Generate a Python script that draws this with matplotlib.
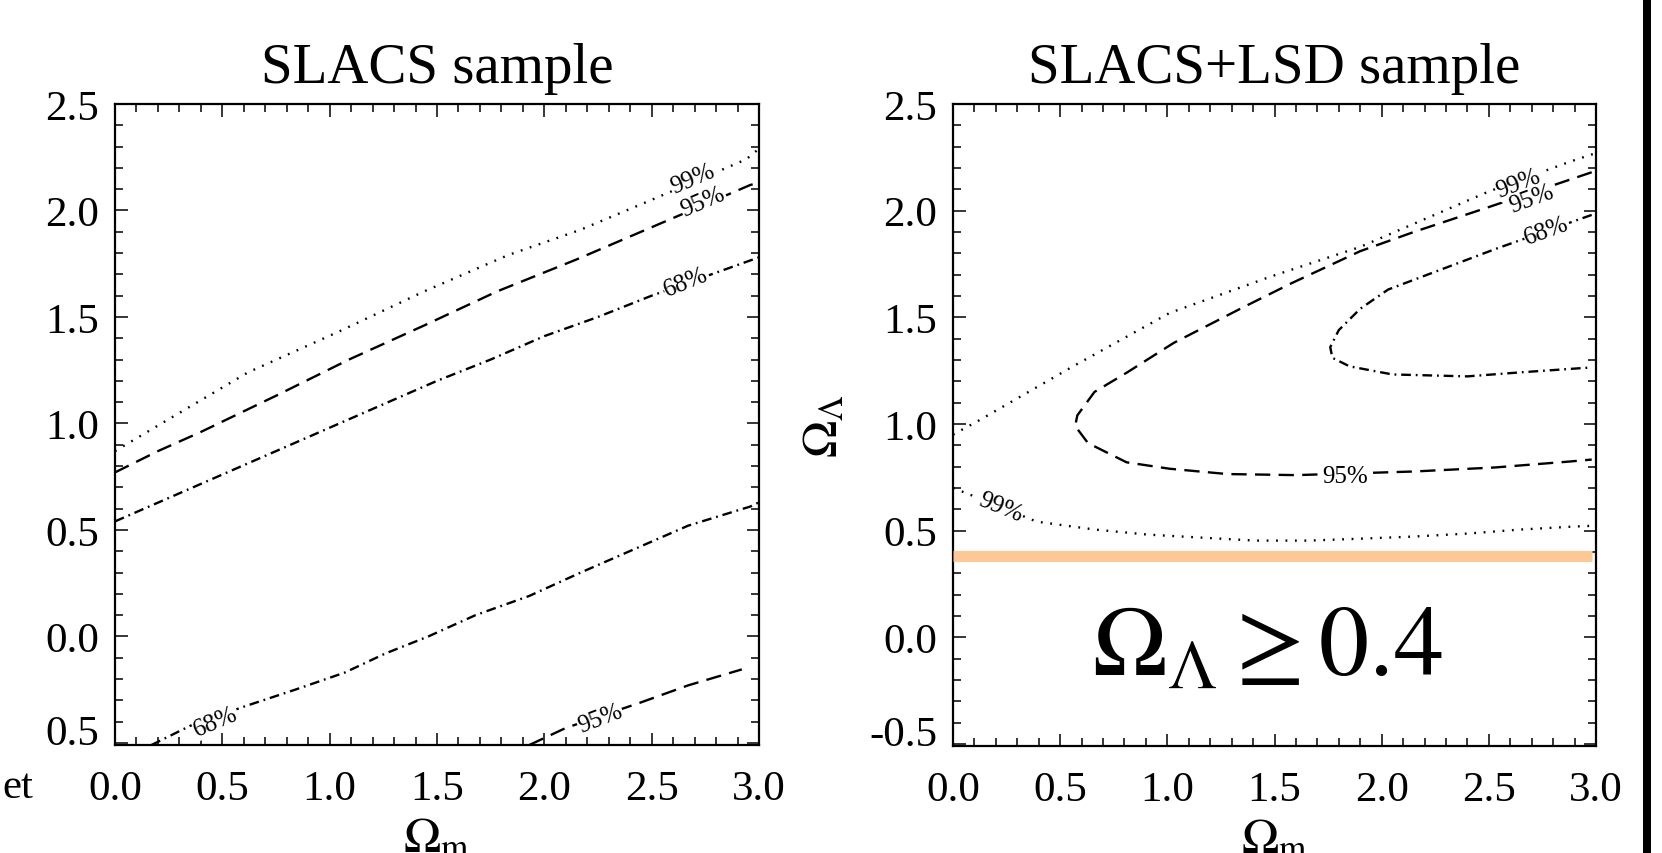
import matplotlib
matplotlib.use('Agg')
import matplotlib.pyplot as plt
from matplotlib.patches import Rectangle
from matplotlib.ticker import MultipleLocator, FixedLocator, FixedFormatter
from matplotlib.transforms import ScaledTranslation

plt.rcParams['font.family'] = ['Liberation Serif', 'DejaVu Serif']
plt.rcParams['mathtext.fontset'] = 'stix'
plt.rcParams['lines.scale_dashes'] = False

# ---------------- data ----------------
titles = ['SLACS sample', 'SLACS+LSD sample']
x_ticks = [0.0, 0.5, 1.0, 1.5, 2.0, 2.5, 3.0]
x_tick_labels = ['0.0', '0.5', '1.0', '1.5', '2.0', '2.5', '3.0']
y_ticks = [-0.5, 0.0, 0.5, 1.0, 1.5, 2.0, 2.5]
y_tick_labels_left = ['0.5', '0.0', '0.5', '1.0', '1.5', '2.0', '2.5']
y_tick_labels_right = ['-0.5', '0.0', '0.5', '1.0', '1.5', '2.0', '2.5']
x_label = r'$\Omega_{\rm m}$'
y_label_right = r'$\Omega_\Lambda$'

# SLACS sample contours
slacs_99_x = [0.0, 0.2, 0.62, 1.04, 1.44, 1.83, 2.17, 2.5, 2.94, 3.0]
slacs_99_y = [0.87, 0.99, 1.24, 1.43, 1.62, 1.79, 1.91, 2.05, 2.24, 2.29]
slacs_95a_x = [0.0, 0.2, 0.4, 0.75, 1.09, 1.44, 1.78, 2.15, 2.52, 2.96, 3.0]
slacs_95a_y = [0.77, 0.87, 0.96, 1.13, 1.30, 1.46, 1.62, 1.77, 1.93, 2.12, 2.13]
slacs_68a_x = [0.0, 0.25, 0.5, 0.75, 1.0, 1.25, 1.5, 1.75, 2.0, 2.25, 2.5, 2.75, 3.0]
slacs_68a_y = [0.54, 0.65, 0.76, 0.87, 0.98, 1.09, 1.20, 1.30, 1.41, 1.50, 1.60, 1.69, 1.78]
slacs_68b_x = [0.17, 0.35, 0.6, 0.84, 1.07, 1.26, 1.46, 1.68, 1.93, 2.17, 2.42, 2.67, 2.96, 3.0]
slacs_68b_y = [-0.51, -0.42, -0.33, -0.25, -0.17, -0.08, 0.0, 0.10, 0.19, 0.30, 0.41, 0.52, 0.61, 0.63]
slacs_95b_x = [1.93, 2.1, 2.45, 2.67, 2.92]
slacs_95b_y = [-0.51, -0.43, -0.31, -0.23, -0.155]

# SLACS+LSD sample contours
lsd_99a_x = [0.0, 0.11, 0.56, 1.01, 1.48, 1.9, 2.5, 2.88, 3.0]
lsd_99a_y = [0.95, 1.01, 1.27, 1.52, 1.69, 1.83, 2.09, 2.23, 2.27]
lsd_95_x = [2.98, 2.48, 2.15, 1.9, 1.58, 1.36, 1.03, 0.81, 0.66, 0.58, 0.57, 0.63, 0.81,
            1.01, 1.28, 1.6, 2.15, 2.53, 2.88, 2.98]
lsd_95_y = [2.18, 2.01, 1.90, 1.81, 1.66, 1.55, 1.38, 1.24, 1.15, 1.04, 0.99, 0.91, 0.82,
            0.79, 0.765, 0.76, 0.777, 0.796, 0.824, 0.833]
lsd_68_x = [2.98, 2.53, 2.28, 2.03, 1.9, 1.8, 1.76, 1.77, 1.85, 2.05, 2.4, 2.65, 2.98]
lsd_68_y = [1.98, 1.82, 1.725, 1.63, 1.54, 1.44, 1.36, 1.31, 1.27, 1.232, 1.223, 1.242, 1.265]
lsd_99b_x = [0.0, 0.2, 0.39, 0.66, 0.91, 1.16, 1.41, 1.66, 1.9, 2.15, 2.4, 2.65, 2.9, 3.0]
lsd_99b_y = [0.70, 0.62, 0.542, 0.505, 0.481, 0.467, 0.453, 0.453, 0.462, 0.472, 0.486, 0.505, 0.519, 0.523]

threshold_value = 0.38
threshold_x = [0.0, 2.98]
annotation = r'$\Omega_\Lambda \geq 0.4$'

# contour labels: (text, x, y, rotation)
slacs_labels = [('99%', 2.69, 2.15, 23), ('95%', 2.74, 2.04, 23), ('68%', 2.66, 1.665, 22),
                ('68%', 0.47, -0.40, 23), ('95%', 2.26, -0.385, 21)]
lsd_labels = [('99%', 2.64, 2.13, 21), ('95%', 2.70, 2.055, 20), ('68%', 2.77, 1.905, 20),
              ('95%', 1.83, 0.755, 0), ('99%', 0.22, 0.61, -22)]

styles = {
    '99': dict(ls=(0, (1.3, 5.5)), color='black', lw=1.7),
    '95': dict(ls=(0, (11, 6)), color='black', lw=1.7),
    '68': dict(ls=(0, (7, 3.5, 1.3, 3.5)), color='black', lw=1.7),
}

# ---------------- figure ----------------
fig = plt.figure(figsize=(16.62, 8.54), dpi=100)
ax1 = fig.add_axes([115 / 1662, (854 - 746) / 854, 644 / 1662, 641 / 854])
ax2 = fig.add_axes([953 / 1662, (854 - 747) / 854, 643 / 1662, 642 / 854])

ax1.plot(slacs_99_x, slacs_99_y, **styles['99'])
ax1.plot(slacs_95a_x, slacs_95a_y, **styles['95'])
ax1.plot(slacs_68a_x, slacs_68a_y, **styles['68'])
ax1.plot(slacs_68b_x, slacs_68b_y, **styles['68'])
ax1.plot(slacs_95b_x, slacs_95b_y, **styles['95'])

ax2.plot(lsd_99a_x, lsd_99a_y, **styles['99'])
ax2.plot(lsd_95_x, lsd_95_y, **styles['95'])
ax2.plot(lsd_68_x, lsd_68_y, **styles['68'])
ax2.plot(lsd_99b_x, lsd_99b_y, **styles['99'])
ax2.plot(threshold_x, [threshold_value, threshold_value], color='#FCC896', lw=8,
         solid_capstyle='butt', zorder=3)

for ax, labels in ((ax1, slacs_labels), (ax2, lsd_labels)):
    for txt, lx, ly, rot in labels:
        ax.text(lx, ly, txt, fontsize=18, rotation=rot, rotation_mode='anchor',
                ha='center', va='center', color='black', zorder=4,
                bbox=dict(facecolor='white', edgecolor='none', pad=0.5))

ax2.text(0.65, -0.176, annotation, fontsize=72, ha='left', va='baseline', zorder=5)

for ax, title, ylabs in ((ax1, titles[0], y_tick_labels_left),
                         (ax2, titles[1], y_tick_labels_right)):
    ax.set_xlim(0, 3.0)
    ax.set_ylim(-0.51, 2.5)
    ax.xaxis.set_major_locator(FixedLocator(x_ticks))
    ax.xaxis.set_major_formatter(FixedFormatter(x_tick_labels))
    ax.yaxis.set_major_locator(FixedLocator(y_ticks))
    ax.yaxis.set_major_formatter(FixedFormatter(ylabs))
    ax.xaxis.set_minor_locator(MultipleLocator(0.1))
    ax.yaxis.set_minor_locator(MultipleLocator(0.1))
    ax.tick_params(which='both', direction='in', top=True, right=True, width=1.1, color='black')
    ax.tick_params(which='major', length=9)
    ax.tick_params(which='minor', length=5.5)
    ax.tick_params(axis='x', which='major', labelsize=31, pad=17.5)
    ax.tick_params(axis='y', which='major', labelsize=31, pad=11.5)
    for sp in ax.spines.values():
        sp.set_linewidth(1.6)
    ax.text(0.5, 1 + 22 / 641, title, transform=ax.transAxes, fontsize=41,
            ha='center', va='baseline')
    ax.set_xlabel(x_label, fontsize=36, labelpad=6)
    # bottom tick label sits slightly above its tick in the reference
    lab = ax.yaxis.get_major_ticks()[0].label1
    lab.set_transform(lab.get_transform() + ScaledTranslation(0, 0.14, fig.dpi_scale_trans))

ax2.set_ylabel(y_label_right, fontsize=36, labelpad=15)

fig.text(33 / 1662, (854 - 798) / 854, 'et', fontsize=31, ha='right', va='baseline')
fig.add_artist(Rectangle((1643 / 1662, 0), 8 / 1662, 1, transform=fig.transFigure,
                         facecolor='black', edgecolor='none'))

fig.savefig('out.png', dpi=100)
